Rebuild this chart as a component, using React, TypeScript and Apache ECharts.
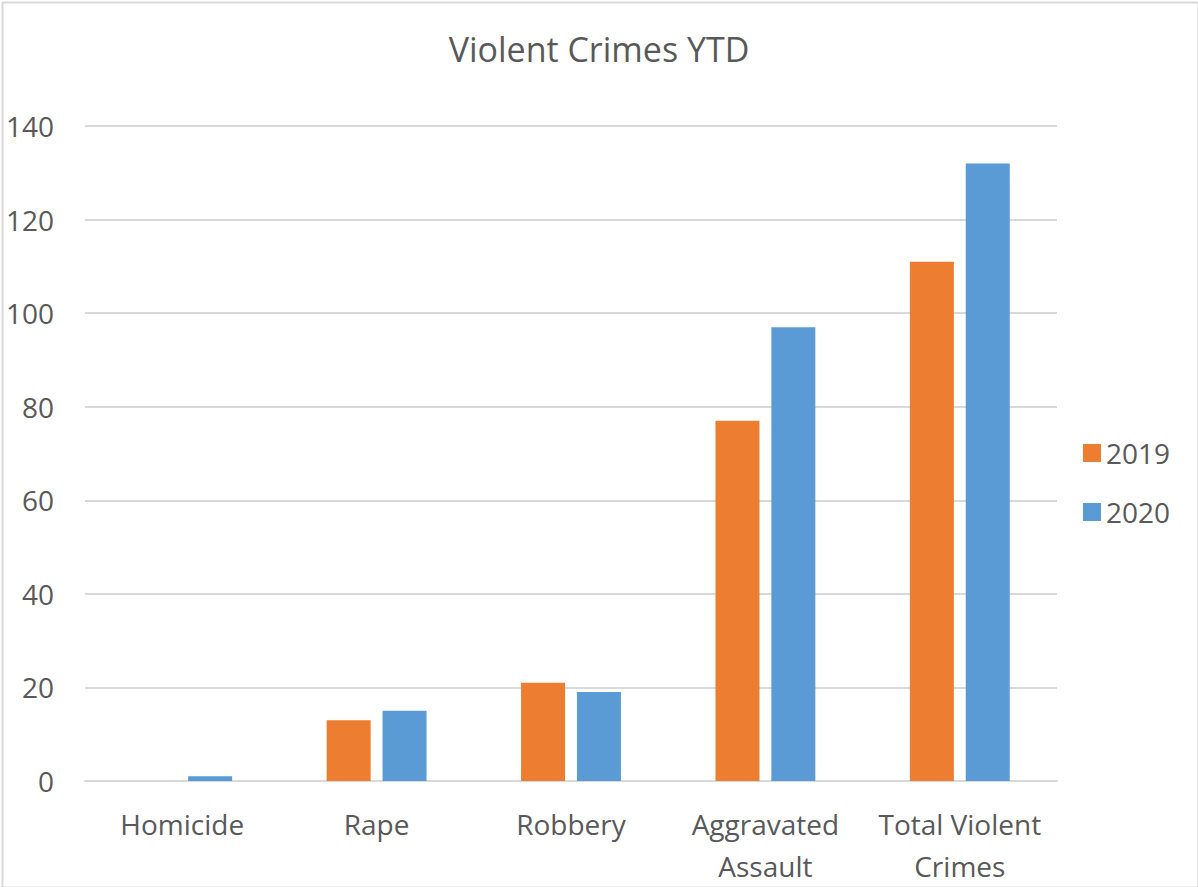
import React, { useEffect, useRef } from "react";
import * as echarts from "echarts";

const categories = ["Homicide", "Rape", "Robbery", "Aggravated\nAssault", "Total Violent\nCrimes"];
const values2019 = [0, 13, 21, 77, 111];
const values2020 = [1, 15, 19, 97, 132];
const seriesNames = ["2019", "2020"];

const FONT = "'Open Sans', 'Liberation Sans', sans-serif";
const TEXT = "#595959";

export default function App() {
  const ref = useRef<HTMLDivElement>(null);
  useEffect(() => {
    document.body.style.margin = "0";
    const chart = echarts.init(ref.current!, undefined, { renderer: "svg" });
    chart.setOption({
      animation: false,
      backgroundColor: "#ffffff",
      textStyle: { fontFamily: FONT, color: TEXT },
      title: {
        text: "Violent Crimes YTD",
        left: "center",
        top: 27,
        textStyle: { fontFamily: FONT, fontSize: 34, fontWeight: "normal", color: TEXT },
      },
      legend: {
        orient: "vertical",
        left: 1078,
        top: 434,
        itemWidth: 18,
        itemHeight: 18,
        itemGap: 31,
        icon: "rect",
        textStyle: { fontFamily: FONT, fontSize: 28, color: TEXT, padding: [0, 0, 0, 0] },
        data: seriesNames,
      },
      grid: { left: 85, right: 141, top: 126, bottom: 103, containLabel: false },
      xAxis: {
        type: "category",
        data: categories,
        axisLine: { lineStyle: { color: "#D9D9D9", width: 2 } },
        axisTick: { show: false },
        axisLabel: {
          fontFamily: FONT,
          fontSize: 28,
          color: TEXT,
          lineHeight: 42,
          margin: 22,
          interval: 0,
        },
      },
      yAxis: {
        type: "value",
        min: 0,
        max: 140,
        interval: 20,
        axisLine: { show: false },
        axisTick: { show: false },
        splitLine: { lineStyle: { color: "#D9D9D9", width: 2 } },
        axisLabel: { fontFamily: FONT, fontSize: 28, color: TEXT, margin: 31 },
      },
      series: [
        {
          name: seriesNames[0],
          type: "bar",
          data: values2019,
          barWidth: 44,
          barGap: "27%",
          itemStyle: { color: "#ED7D31" },
        },
        {
          name: seriesNames[1],
          type: "bar",
          data: values2020,
          barWidth: 44,
          barGap: "27%",
          itemStyle: { color: "#5B9BD5" },
        },
      ],
      graphic: [
        {
          type: "rect",
          left: 0,
          top: 0,
          shape: { x: 1, y: 1, width: 1196, height: 885 },
          style: { fill: "none", stroke: "#D9D9D9", lineWidth: 2 },
          silent: true,
        },
      ],
    });
    return () => chart.dispose();
  }, []);
  return <div ref={ref} style={{ width: 1198, height: 887 }} />;
}
